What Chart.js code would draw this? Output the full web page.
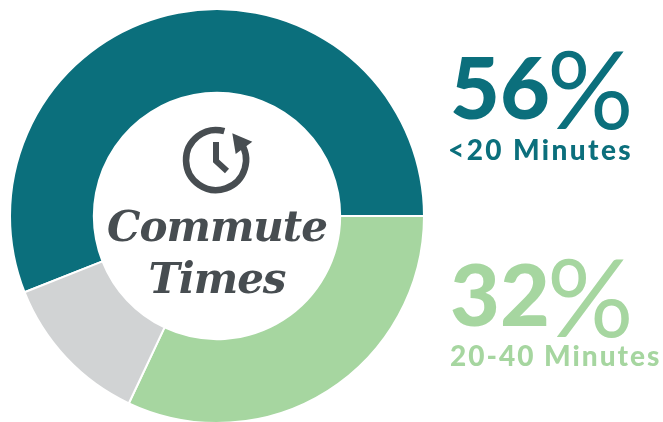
<!DOCTYPE html>
<html>
<head>
<meta charset="utf-8">
<script src="https://cdn.jsdelivr.net/npm/chart.js@4"></script>
<style>
html, body { margin: 0; padding: 0; background: #fff; overflow: hidden; }
#wrap { position: relative; width: 663px; height: 422px; overflow: hidden; }
#wrap canvas { position: absolute; left: 0; top: 0; }
.t { position: absolute; white-space: nowrap; line-height: 1; }
.title { font-family: "DejaVu Serif"; font-weight: bold; font-style: italic; font-size: 42px; color: #474d51; letter-spacing: -1px; text-align: center; left: 97px; width: 240px; }
.num { font-family: Lato; font-weight: 900; font-size: 86px; }
.pct { font-family: Lato; font-weight: 400; font-size: 108px; }
.sub { font-family: Lato; font-weight: 900; font-size: 28px; }
.teal { color: #0b6f7c; }
.green { color: #a6d6a0; }
</style>
</head>
<body>
<div id="wrap">
	<canvas id="chart" width="663" height="440"></canvas>
	<svg style="position:absolute;left:0;top:0" width="663" height="422">
		<g fill="none" stroke="#474d51" stroke-width="6.5">
			<path d="M224.3 131.2 A30 30 0 1 0 240 142"/>
			<path d="M216 142 V161 L227 171" stroke-width="6"/>
		</g>
		<polygon points="232.3,133.3 252.3,141.7 235.7,154" fill="#474d51"/>
	</svg>
	<div class="t title" style="top:206px">Commute</div>
	<div class="t title" style="top:258px">Times</div>
	<div class="t num teal" style="left:450px;top:43px">56</div>
	<div class="t pct teal" style="left:547px;top:33px">%</div>
	<div class="t sub teal" style="left:448px;top:135px;letter-spacing:2.4px">&lt;20 Minutes</div>
	<div class="t num green" style="left:450px;top:250px">32</div>
	<div class="t pct green" style="left:547px;top:241px">%</div>
	<div class="t sub green" style="left:450px;top:341px;letter-spacing:2px">20-40 Minutes</div>
</div>
<script>
var categories = ["<20 Minutes", "20-40 Minutes", "Over 40 Minutes"];
var shares = [56, 32, 12];
var sliceColors = ["#0b6f7c", "#a6d6a0", "#d1d3d4"];

new Chart(document.getElementById("chart"), {
	type: "doughnut",
	data: {
		labels: categories,
		datasets: [{
			data: shares,
			backgroundColor: sliceColors,
			borderColor: "#ffffff",
			borderWidth: 2
		}]
	},
	options: {
		responsive: false,
		animation: false,
		rotation: 248.4,
		cutout: "59.5%",
		layout: { padding: { left: 9, right: 238, top: 8, bottom: 16 } },
		plugins: { legend: { display: false }, tooltip: { enabled: false } }
	}
});
</script>
</body>
</html>
